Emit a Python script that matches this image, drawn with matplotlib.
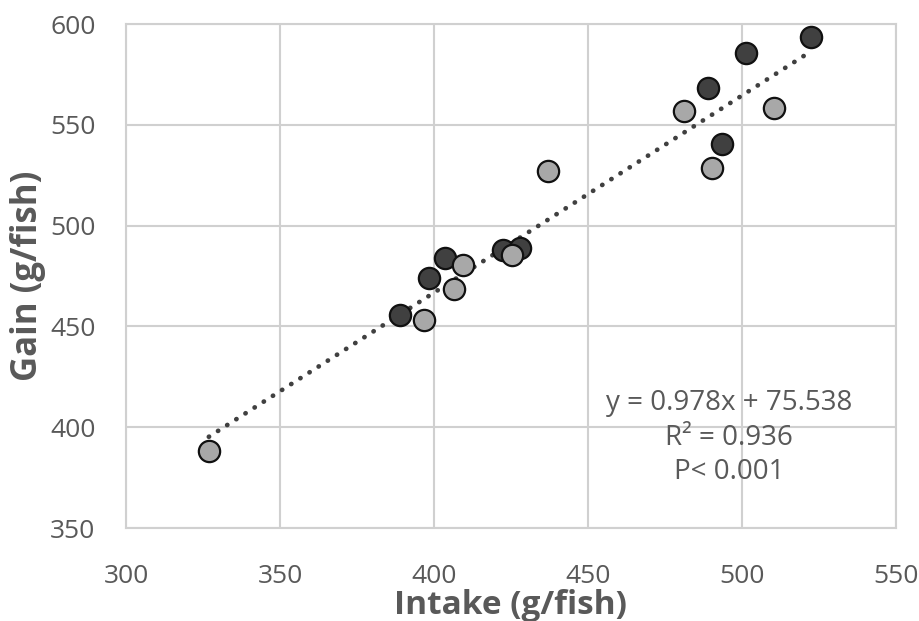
import matplotlib
matplotlib.use("Agg")
import matplotlib.pyplot as plt
import numpy as np

# Data
light_intake = [326.9, 396.8, 406.5, 409.5, 425.2, 437.1, 481.2, 490.2, 510.4]
light_gain = [388.2, 453.2, 468.4, 480.5, 485.4, 527.1, 557.0, 528.7, 558.5]
dark_intake = [389.0, 398.5, 403.6, 422.5, 427.9, 493.6, 489.1, 501.3, 522.4]
dark_gain = [455.7, 473.9, 483.8, 487.9, 488.7, 540.5, 568.4, 585.8, 593.4]
slope = 0.978
intercept = 75.538
eq_lines = ["y = 0.978x + 75.538", "R² = 0.936", "P< 0.001"]
xticks = [300, 350, 400, 450, 500, 550]
yticks = [350, 400, 450, 500, 550, 600]

plt.rcParams['font.family'] = ['Open Sans', 'DejaVu Sans']

fig = plt.figure(figsize=(9.19, 6.21), dpi=100)
ax = fig.add_axes([126/919, 1-528/621, (896-126)/919, (528-24)/621])

grid_c = '#d0d0d0'
txt_c = '#595959'

all_x = np.array(light_intake + dark_intake)
xs = np.linspace(all_x.min(), all_x.max(), 100)
ax.plot(xs, slope*xs + intercept, color='#404040', lw=3.4,
        linestyle=(0, (0.05, 2.25)), dash_capstyle='round', zorder=2)

ax.scatter(dark_intake, dark_gain, s=235, c='#404040', edgecolors='#111111',
           linewidths=1.6, zorder=3)
ax.scatter(light_intake, light_gain, s=235, c='#a8a8a8', edgecolors='#111111',
           linewidths=1.6, zorder=3)

ax.set_xlim(300, 550)
ax.set_ylim(350, 600)
ax.set_xticks(xticks)
ax.set_yticks(yticks)
ax.grid(True, color=grid_c, lw=1.5, zorder=0)
ax.set_axisbelow(True)
for s in ax.spines.values():
    s.set_color(grid_c)
    s.set_linewidth(1.5)
ax.tick_params(length=0, labelsize=19, labelcolor=txt_c)
ax.tick_params(axis='y', pad=22)
ax.tick_params(axis='x', pad=26)

ax.set_xlabel('Intake (g/fish)', fontsize=24, fontweight='bold', color=txt_c, labelpad=0)
ax.set_ylabel('Gain (g/fish)', fontsize=25, fontweight='bold', color=txt_c, labelpad=3)

for i, line in enumerate(eq_lines):
    ax.text(495.8, 412 - i*17.2, line, ha='center', va='center', fontsize=20, color=txt_c)

fig.savefig('out.png', dpi=100)
